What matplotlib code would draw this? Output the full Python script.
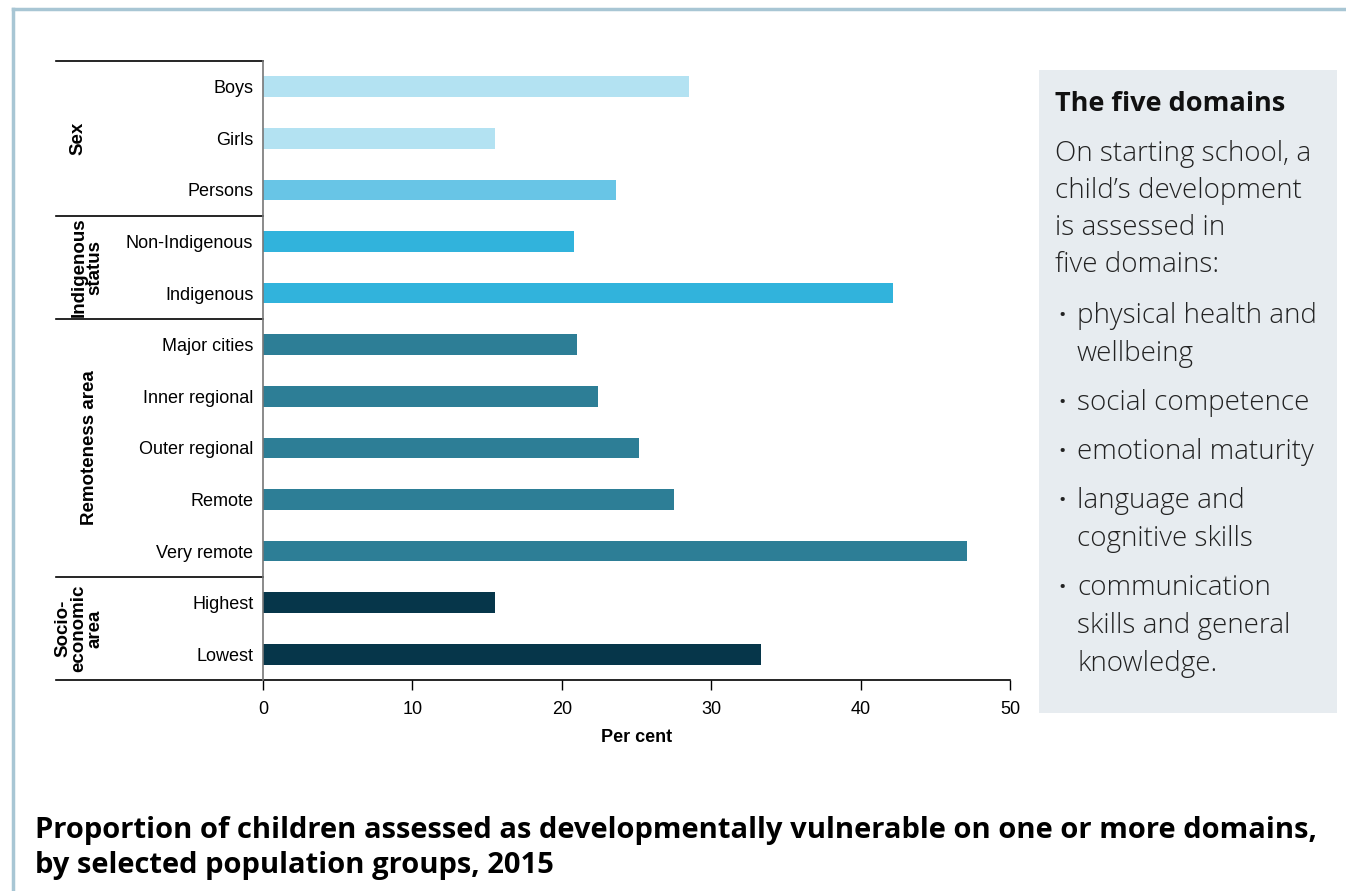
import matplotlib.pyplot as plt
from matplotlib.lines import Line2D
from matplotlib.patches import Rectangle

# data
categories = ['Boys', 'Girls', 'Persons', 'Non-Indigenous', 'Indigenous',
              'Major cities', 'Inner regional', 'Outer regional', 'Remote',
              'Very remote', 'Highest', 'Lowest']
values = [28.5, 15.5, 23.6, 20.8, 42.2, 21.0, 22.4, 25.2, 27.5, 47.1, 15.5, 33.3]
colors = ['#b3e2f2', '#b3e2f2', '#68c5e6', '#31b3dc', '#31b3dc',
          '#2d7e96', '#2d7e96', '#2d7e96', '#2d7e96', '#2d7e96',
          '#06364a', '#06364a']
groups = ['Sex', 'Indigenous\nstatus', 'Remoteness area', 'Socio-\neconomic\narea']
group_spans = [(0, 2), (3, 4), (5, 9), (10, 11)]
xticks = [0, 10, 20, 30, 40, 50]

box_title = 'The five domains'
box_intro = ['On starting school, a', 'child\u2019s development', 'is assessed in', 'five domains:']
box_bullets = [['physical health and', 'wellbeing'], ['social competence'],
               ['emotional maturity'], ['language and', 'cognitive skills'],
               ['communication', 'skills and general', 'knowledge.']]
title = ('Proportion of children assessed as developmentally vulnerable on one or more domains,\n'
         'by selected population groups, 2015')

plt.rcParams['font.family'] = ['Liberation Sans', 'DejaVu Sans']

fig = plt.figure(figsize=(13.46, 8.91), dpi=100)
W, H = 1346, 891
ax = fig.add_axes([263 / W, 1 - 680 / H, (1010 - 263) / W, (680 - 61) / H])

y = list(range(len(categories)))
ax.barh(y, values, height=0.4, color=colors)
ax.set_ylim(11.5, -0.5)
ax.set_xlim(0, 50)
ax.set_xticks(xticks)
ax.set_yticks(y)
ax.set_yticklabels(categories, fontsize=13)
ax.tick_params(axis='y', length=0, pad=7)
ax.tick_params(axis='x', length=7, width=1, labelsize=13, pad=8)
for s in ['top', 'right', 'bottom']:
    ax.spines[s].set_visible(False)
ax.spines['left'].set_color('#777777')
ax.spines['left'].set_linewidth(1.2)
ax.set_xlabel('Per cent', fontsize=13, fontweight='bold', labelpad=8)

# group separators and bottom axis line
left_x = (56 - 263) / (1010 - 263)
trans = ax.get_yaxis_transform()
for yy in [-0.5, 2.5, 4.5, 9.5]:
    ax.add_line(Line2D([left_x, 0], [yy, yy], transform=trans, color='black',
                       lw=1.2, clip_on=False))
ax.add_line(Line2D([left_x, 1], [11.5, 11.5], transform=trans, color='black',
                   lw=1.2, clip_on=False))

group_x = [(78 - 263) / 747, (87 - 263) / 747, (90 - 263) / 747, (79 - 263) / 747]
for g, (a, b), gx in zip(groups, group_spans, group_x):
    ax.text(gx, (a + b) / 2, g, transform=trans, rotation=90, ha='center', va='center',
            fontsize=13.5, fontweight='bold', linespacing=0.95)

# outer frame
fig.add_artist(Line2D([13 / W, 13 / W], [0, 1 - 9 / H], color='#a8c6d4', lw=2.5))
fig.add_artist(Line2D([13 / W, 1], [1 - 9 / H, 1 - 9 / H], color='#a8c6d4', lw=2.5))

# side box
fig.add_artist(Rectangle((1039 / W, 1 - 713 / H), (1337 - 1039) / W, (713 - 70) / H,
                         transform=fig.transFigure, color='#e7ecf0', lw=0))
fig.text(1055 / W, 1 - 104 / H, box_title, family='Open Sans', fontweight='bold',
         fontsize=19.5, va='center', color='#111111')
ypos = 154
for line in box_intro:
    fig.text(1055 / W, 1 - ypos / H, line, family='Open Sans', fontweight='light',
             fontsize=20, va='center', color='#222222')
    ypos += 37
ypos = 316
for item in box_bullets:
    fig.text(1058 / W, 1 - ypos / H, '\u2022', family='Open Sans', fontsize=14,
             va='center', color='#222222')
    for line in item:
        fig.text(1077 / W, 1 - ypos / H, line, family='Open Sans', fontweight='light',
                 fontsize=20, va='center', color='#222222')
        ypos += 38
    ypos += 11

fig.text(35 / W, 1 - 848 / H, title, family='Open Sans', fontweight='bold',
         fontsize=21, va='center', ha='left', linespacing=1.28)

fig.savefig('out.png', dpi=100)
